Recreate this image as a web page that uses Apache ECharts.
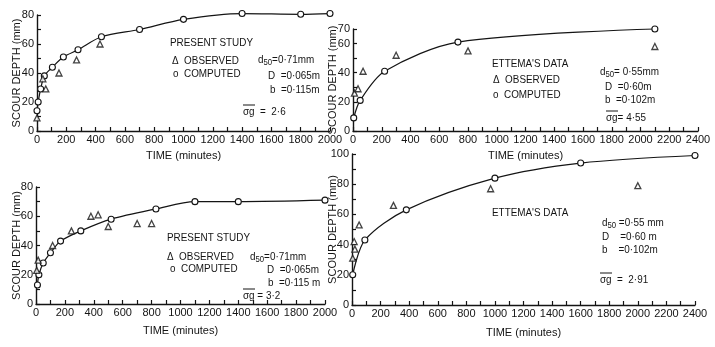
<!DOCTYPE html>
<html>
<head>
<meta charset="utf-8">
<script src="https://cdn.jsdelivr.net/npm/echarts@6/dist/echarts.min.js"></script>
<style>
html,body{margin:0;padding:0;background:#fff;}
#c{width:715px;height:347px;}
</style>
</head>
<body>
<div id="c"></div>
<script>
// ---- Data ----
// Panel 1: Present study, sigma_g = 2.6
const p1Time    = [0, 8, 25, 50, 105, 180, 280, 440, 700, 1000, 1400, 1800, 2000];
const p1Comp    = [14, 20, 29, 38, 44, 51, 56, 65, 70, 77, 81, 80.5, 81];
const p1ObsTime = [0, 40, 60, 150, 270, 430];
const p1Obs     = [9, 36, 29, 40, 49, 60];
// Panel 2: Ettema's data, sigma_g = 4.55
const p2Time    = [5, 50, 220, 730, 2100];
const p2Comp    = [9, 21, 41, 61, 70];
const p2ObsTime = [10, 35, 70, 300, 800, 2100];
const p2Obs     = [26, 29, 41, 52, 55, 58];
// Panel 3: Present study, sigma_g = 3.2
const p3Time    = [10, 20, 50, 100, 170, 310, 520, 830, 1100, 1400, 2000];
const p3Comp    = [13, 20, 28, 35, 43, 50, 58, 65, 70, 70, 71];
const p3ObsTime = [5, 15, 115, 245, 380, 430, 500, 700, 800];
const p3Obs     = [23, 30, 40, 50, 60, 61, 53, 55, 55];
// Panel 4: Ettema's data, sigma_g = 2.91
const p4Time    = [5, 90, 380, 1000, 1600, 2400];
const p4Comp    = [20, 43, 63, 84, 94, 99];
const p4ObsTime = [5, 15, 20, 50, 290, 970, 2000];
const p4Obs     = [31, 42, 37, 53, 66, 77, 79];

// Tick labels
const xLabels2000 = [0, 200, 400, 600, 800, 1000, 1200, 1400, 1600, 1800, 2000];
const xLabels2400 = [0, 200, 400, 600, 800, 1000, 1200, 1400, 1600, 1800, 2000, 2200, 2400];
const yLabels80  = [0, 20, 40, 60, 80];
const yLabels70  = [0, 20, 40, 60, 70];
const yLabels100 = [0, 20, 40, 60, 80, 100];

const FONT = 'Liberation Sans';
const INK = '#141414';
const SX = 0.86;

function zip(a, b) { return a.map((v, i) => [v, b[i]]); }

function xAxis(gi, max, labels, gap) {
  return {
    type: 'value', gridIndex: gi, min: 0, max: max, interval: 100,
    axisLine: { show: true, onZero: false, lineStyle: { color: INK, width: 1.4 } },
    axisTick: { show: true, inside: true, length: 4, lineStyle: { color: INK, width: 1.2 } },
    splitLine: { show: false },
    axisLabel: {
      color: INK, fontSize: 11, fontFamily: FONT, margin: 3,
      formatter: v => labels.includes(v) ? String(v) : ''
    },
    name: 'TIME (minutes)', nameLocation: 'middle', nameGap: gap, nameMoveOverlap: false,
    nameTextStyle: { color: INK, fontSize: 11, fontFamily: FONT }
  };
}
function yAxis(gi, max, labels, gap) {
  return {
    type: 'value', gridIndex: gi, min: 0, max: max, interval: 10,
    axisLine: { show: true, onZero: false, lineStyle: { color: INK, width: 1.4 } },
    axisTick: { show: true, inside: true, length: 4, lineStyle: { color: INK, width: 1.2 } },
    splitLine: { show: false },
    axisLabel: {
      color: INK, fontSize: 11, fontFamily: FONT, margin: 3,
      formatter: v => labels.includes(v) ? String(v) : ''
    },
    name: 'SCOUR DEPTH (mm)', nameLocation: 'middle', nameGap: gap, nameMoveOverlap: false,
    nameTextStyle: { color: INK, fontSize: 11, fontFamily: FONT }
  };
}
function compSeries(i, t, v) {
  return {
    type: 'line', xAxisIndex: i, yAxisIndex: i, data: zip(t, v),
    smooth: 0.3, clip: false,
    symbol: 'circle', symbolSize: 6, showAllSymbol: true,
    itemStyle: { color: '#fff', borderColor: INK, borderWidth: 1.1 },
    lineStyle: { color: INK, width: 1.2 }, z: 3, silent: true
  };
}
function obsSeries(i, t, v) {
  return {
    type: 'scatter', xAxisIndex: i, yAxisIndex: i, data: zip(t, v),
    symbol: 'triangle', symbolSize: 6, clip: false,
    itemStyle: { color: '#fff', borderColor: INK, borderWidth: 1.3 }, z: 4, silent: true
  };
}

function txt(x, y, text) {
  return { type: 'text', x: x, y: y, scaleX: SX, silent: true,
    style: { text: text, fill: INK, font: '11.5px "' + FONT + '"', textVerticalAlign: 'middle' } };
}
function rtxt(x, y, parts) {
  return { type: 'text', x: x, y: y, scaleX: SX, silent: true,
    style: { text: parts, fill: INK, font: '11.5px "' + FONT + '"', textVerticalAlign: 'middle',
      rich: { s: { fontSize: 9, fontFamily: FONT, fill: INK, verticalAlign: 'bottom', padding: [6, 0, 0, 0] },
              n: { fontSize: 11.5, fontFamily: FONT, fill: INK } } } };
}
function bar(x, y, w) {
  return { type: 'line', silent: true, shape: { x1: x, y1: y, x2: x + w, y2: y }, style: { stroke: INK, lineWidth: 1 } };
}

const graphics = [
  // Panel 1
  txt(170, 43, 'PRESENT STUDY'),
  txt(172, 61, 'Δ  OBSERVED'),
  txt(173, 74, 'o  COMPUTED'),
  rtxt(258, 60, '{n|d}{s|50}{n|=0·71mm}'),
  txt(268, 76, 'D  =0·065m'),
  txt(270, 90, 'b  =0·115m'),
  txt(243, 112, 'σg  =  2·6'), bar(243, 105, 12),
  // Panel 2
  txt(492, 64, 'ETTEMA\'S DATA'),
  txt(493, 80, 'Δ  OBSERVED'),
  txt(493, 95, 'o  COMPUTED'),
  rtxt(600, 72, '{n|d}{s|50}{n|= 0·55mm}'),
  txt(605, 87, 'D  =0·60m'),
  txt(605, 100, 'b  =0·102m'),
  txt(606, 118, 'σg= 4·55'), bar(606, 111, 12),
  // Panel 3
  txt(167, 238, 'PRESENT STUDY'),
  txt(167, 257, 'Δ  OBSERVED'),
  txt(170, 269, 'o  COMPUTED'),
  rtxt(250, 257, '{n|d}{s|50}{n|=0·71mm}'),
  txt(267, 270, 'D  =0·065m'),
  txt(268, 283, 'b  =0·115 m'),
  txt(243, 296, 'σg = 3·2'), bar(243, 289, 12),
  // Panel 4
  txt(492, 213, 'ETTEMA\'S DATA'),
  rtxt(602, 223, '{n|d}{s|50}{n| =0·55 mm}'),
  txt(602, 237, 'D    =0·60 m'),
  txt(602, 250, 'b    =0·102m'),
  txt(600, 280, 'σg  =  2·91'), bar(600, 273, 12)
];

const option = {
  animation: false,
  backgroundColor: '#fff',
  grid: [
    { left: 37,  top: 15,  width: 293, height: 116 },
    { left: 353, top: 29,  width: 345, height: 102 },
    { left: 36,  top: 187, width: 289, height: 117 },
    { left: 352, top: 154, width: 343, height: 151 }
  ],
  xAxis: [
    xAxis(0, 2000, xLabels2000, 19),
    xAxis(1, 2400, xLabels2400, 19),
    xAxis(2, 2000, xLabels2000, 21),
    xAxis(3, 2400, xLabels2400, 22)
  ],
  yAxis: [
    yAxis(0, 80, yLabels80, 15),
    yAxis(1, 70, yLabels70, 14.5),
    yAxis(2, 80, yLabels80, 14),
    yAxis(3, 100, yLabels100, 14)
  ],
  series: [
    compSeries(0, p1Time, p1Comp), obsSeries(0, p1ObsTime, p1Obs),
    compSeries(1, p2Time, p2Comp), obsSeries(1, p2ObsTime, p2Obs),
    compSeries(2, p3Time, p3Comp), obsSeries(2, p3ObsTime, p3Obs),
    compSeries(3, p4Time, p4Comp), obsSeries(3, p4ObsTime, p4Obs)
  ],
  graphic: graphics
};

const chart = echarts.init(document.getElementById('c'), null, { renderer: 'canvas' });
chart.setOption(option);
</script>
</body>
</html>
